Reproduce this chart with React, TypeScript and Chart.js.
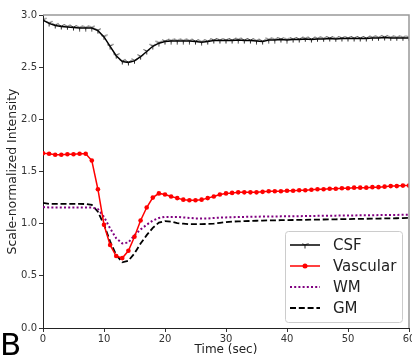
import React, { useEffect, useRef } from "react";
import { Chart, registerables } from "chart.js";

Chart.register(...registerables);

const times = [0,1,2,3,4,5,6,7,8,9,10,11,12,13,14,15,16,17,18,19,20,21,22,23,24,25,26,27,28,29,30,31,32,33,34,35,36,37,38,39,40,41,42,43,44,45,46,47,48,49,50,51,52,53,54,55,56,57,58,59,60];

const csf = [2.95,2.92,2.9,2.89,2.885,2.88,2.875,2.875,2.875,2.85,2.79,2.7,2.61,2.555,2.545,2.56,2.6,2.65,2.7,2.73,2.745,2.75,2.75,2.75,2.75,2.745,2.74,2.745,2.755,2.755,2.755,2.755,2.76,2.755,2.755,2.75,2.745,2.76,2.76,2.765,2.76,2.765,2.765,2.77,2.765,2.77,2.77,2.775,2.77,2.775,2.775,2.775,2.775,2.775,2.78,2.78,2.785,2.78,2.78,2.78,2.78];

const vascular = [1.675,1.67,1.66,1.66,1.665,1.665,1.67,1.67,1.605,1.33,0.99,0.795,0.69,0.67,0.74,0.875,1.03,1.155,1.25,1.29,1.28,1.26,1.245,1.23,1.225,1.225,1.23,1.245,1.26,1.28,1.29,1.295,1.3,1.3,1.3,1.3,1.305,1.31,1.31,1.31,1.315,1.315,1.32,1.32,1.325,1.33,1.33,1.335,1.335,1.34,1.34,1.345,1.345,1.345,1.35,1.35,1.355,1.36,1.36,1.365,1.365];

const wm = [1.16,1.155,1.155,1.155,1.155,1.155,1.155,1.155,1.155,1.14,1.065,0.955,0.86,0.81,0.82,0.89,0.945,0.99,1.03,1.055,1.065,1.065,1.065,1.06,1.055,1.05,1.05,1.05,1.055,1.058,1.06,1.062,1.064,1.065,1.066,1.067,1.068,1.068,1.069,1.07,1.07,1.071,1.072,1.073,1.074,1.075,1.075,1.076,1.077,1.078,1.078,1.079,1.08,1.08,1.081,1.082,1.083,1.083,1.084,1.085,1.085];

const gm = [1.2,1.19,1.19,1.19,1.19,1.19,1.19,1.188,1.18,1.115,0.99,0.83,0.7,0.63,0.645,0.715,0.81,0.89,0.96,1.01,1.025,1.02,1.005,1.0,0.995,0.995,0.995,0.998,1.0,1.008,1.015,1.02,1.022,1.024,1.026,1.028,1.03,1.031,1.032,1.033,1.034,1.035,1.036,1.037,1.038,1.039,1.04,1.041,1.042,1.043,1.044,1.045,1.046,1.047,1.048,1.049,1.05,1.051,1.052,1.053,1.055];

const seriesNames = ["CSF", "Vascular", "WM", "GM"];
const yTicks = [0, 0.5, 1.0, 1.5, 2.0, 2.5, 3.0];
const xTicks = [0, 10, 20, 30, 40, 50, 60];

const FONT = "'DejaVu Sans', sans-serif";
const CANVAS_W = 424;
const VIEW_W = 412;
const H = 357;

function makeTri(): HTMLCanvasElement {
  const c = document.createElement("canvas");
  c.width = 7;
  c.height = 7;
  const g = c.getContext("2d")!;
  g.strokeStyle = "#111";
  g.lineWidth = 0.9;
  g.beginPath();
  g.moveTo(3.5, 3);
  g.lineTo(3.5, 6.5);
  g.moveTo(3.5, 3);
  g.lineTo(0.5, 1.6);
  g.moveTo(3.5, 3);
  g.lineTo(6.5, 1.6);
  g.stroke();
  return c;
}

export default function App() {
  const ref = useRef<HTMLCanvasElement | null>(null);

  useEffect(() => {
    const tri = makeTri();
    const pts = (arr: number[]) => times.map((t, i) => ({ x: t, y: arr[i] }));

    const framePlugin = {
      id: "frame",
      afterDatasetsDraw(chart: any) {
        const { ctx, chartArea } = chart;
        ctx.save();
        ctx.strokeStyle = "#999";
        ctx.lineWidth = 1.5;
        ctx.beginPath();
        ctx.moveTo(chartArea.left, chartArea.top);
        ctx.lineTo(chartArea.right, chartArea.top);
        ctx.lineTo(chartArea.right, chartArea.bottom);
        ctx.stroke();
        ctx.restore();
      },
      afterDraw(chart: any) {
        const { ctx } = chart;
        ctx.save();
        const bx = 285, by = 231, bw = 117, bh = 91;
        ctx.fillStyle = "rgba(255,255,255,0.85)";
        ctx.strokeStyle = "#ccc";
        ctx.lineWidth = 1;
        ctx.beginPath();
        (ctx as any).roundRect(bx + 0.5, by + 0.5, bw, bh, 3);
        ctx.fill();
        ctx.stroke();
        const rows = [245, 266, 287, 308];
        const x0 = 290, x1 = 320;
        ctx.font = `15px ${FONT}`;
        ctx.textBaseline = "middle";
        ctx.textAlign = "left";
        seriesNames.forEach((name, i) => {
          const y = rows[i];
          ctx.save();
          ctx.beginPath();
          if (i === 0) {
            ctx.strokeStyle = "#000";
            ctx.lineWidth = 1.5;
          } else if (i === 1) {
            ctx.strokeStyle = "#ff0000";
            ctx.lineWidth = 1.5;
          } else if (i === 2) {
            ctx.strokeStyle = "#800080";
            ctx.lineWidth = 2;
            ctx.setLineDash([2, 2.2]);
          } else {
            ctx.strokeStyle = "#000";
            ctx.lineWidth = 1.8;
            ctx.setLineDash([6, 2.8]);
          }
          ctx.moveTo(x0, y);
          ctx.lineTo(x1, y);
          ctx.stroke();
          ctx.restore();
          if (i === 0) ctx.drawImage(tri, (x0 + x1) / 2 - 3.5, y - 3);
          if (i === 1) {
            ctx.fillStyle = "#ff0000";
            ctx.beginPath();
            ctx.arc((x0 + x1) / 2, y, 2.5, 0, Math.PI * 2);
            ctx.fill();
          }
          ctx.fillStyle = "#222";
          ctx.fillText(name, 333, y + 1);
        });
        ctx.fillStyle = "#000";
        ctx.font = `31px ${FONT}`;
        ctx.textBaseline = "alphabetic";
        ctx.fillText("B", 0, 355);
        ctx.restore();
      },
    };

    const chart = new Chart(ref.current!, {
      type: "line",
      data: {
        datasets: [
          {
            label: seriesNames[0],
            data: pts(csf),
            borderColor: "#000",
            borderWidth: 1.5,
            pointStyle: tri as any,
            pointRadius: 3,
            tension: 0,
          },
          {
            label: seriesNames[1],
            data: pts(vascular),
            borderColor: "#ff0000",
            backgroundColor: "#ff0000",
            borderWidth: 1.5,
            pointStyle: "circle",
            pointRadius: 2.3,
            pointBorderWidth: 0,
            tension: 0,
          },
          {
            label: seriesNames[2],
            data: pts(wm),
            borderColor: "#800080",
            borderWidth: 2,
            borderDash: [2, 2.2],
            pointRadius: 0,
            tension: 0,
          },
          {
            label: seriesNames[3],
            data: pts(gm),
            borderColor: "#000",
            borderWidth: 1.8,
            borderDash: [6, 2.8],
            pointRadius: 0,
            tension: 0,
          },
        ],
      },
      options: {
        animation: false,
        responsive: false,
        maintainAspectRatio: false,
        layout: { padding: { top: 15, right: CANVAS_W - 409, left: 0, bottom: 0 } },
        plugins: { legend: { display: false }, tooltip: { enabled: false } },
        scales: {
          x: {
            type: "linear",
            min: 0,
            max: 60,
            afterBuildTicks: (s: any) => {
              s.ticks = xTicks.map((v) => ({ value: v }));
            },
            afterFit: (s: any) => {
              s.height = 29;
            },
            ticks: {
              font: { family: FONT, size: 10 },
              color: "#333",
              padding: 1,
              maxRotation: 0,
              autoSkip: false,
            },
            grid: { display: true, drawOnChartArea: false, drawTicks: true, tickLength: 4, color: "#333" },
            border: { display: true, color: "#222", width: 1 },
            title: {
              display: true,
              text: "Time (sec)",
              font: { family: FONT, size: 12 },
              color: "#222",
              padding: { top: 0, bottom: 0 },
            },
          },
          y: {
            type: "linear",
            min: 0,
            max: 3,
            afterBuildTicks: (s: any) => {
              s.ticks = yTicks.map((v) => ({ value: v }));
            },
            afterFit: (s: any) => {
              s.width = 43;
            },
            ticks: {
              font: { family: FONT, size: 10 },
              color: "#333",
              padding: 2,
              callback: (v: any) => Number(v).toFixed(1),
            },
            grid: { display: true, drawOnChartArea: false, drawTicks: true, tickLength: 4, color: "#333" },
            border: { display: true, color: "#222", width: 1 },
            title: {
              display: true,
              text: "Scale-normalized Intensity",
              font: { family: FONT, size: 12.5 },
              color: "#222",
              padding: { top: 5, bottom: 0 },
            },
          },
        },
      },
      plugins: [framePlugin],
    });
    return () => chart.destroy();
  }, []);

  return (
    <div style={{ position: "absolute", left: 0, top: 0, width: VIEW_W, height: H, overflow: "hidden", background: "#fff" }}>
      <canvas ref={ref} width={CANVAS_W} height={H} style={{ display: "block", width: CANVAS_W, height: H }} />
    </div>
  );
}
